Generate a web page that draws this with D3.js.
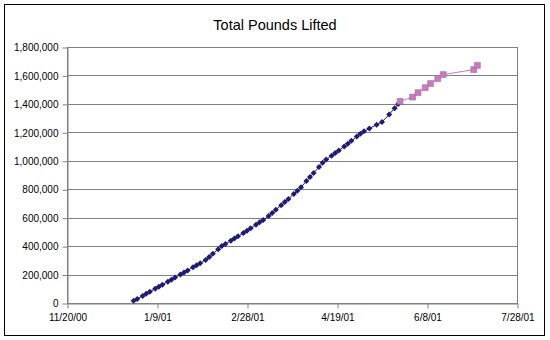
<!DOCTYPE html>
<html lang="en">
<head>
<meta charset="UTF-8"/>
<title>Total Pounds Lifted</title>
<script src="https://d3js.org/d3.v7.min.js"></script>
<style>
    html, body {
        margin: 0;
        padding: 0;
        background: #fff;
    }
    svg {
        display: block;
        font-family: Arial, "Liberation Sans", sans-serif;
    }
</style>
</head>
<body>
<div id="chart"></div>
<script>
    // series 1 (blue diamonds)
    var blueDates = [
        "12/27/00", "12/29/00", "1/1/01", "1/3/01", "1/5/01", "1/8/01", "1/10/01", "1/12/01",
        "1/15/01", "1/17/01", "1/19/01", "1/22/01", "1/24/01", "1/26/01", "1/29/01", "1/31/01",
        "2/2/01", "2/5/01", "2/7/01", "2/9/01", "2/12/01", "2/14/01", "2/16/01", "2/19/01",
        "2/21/01", "2/23/01", "2/26/01", "2/28/01", "3/2/01", "3/5/01", "3/7/01", "3/9/01",
        "3/12/01", "3/14/01", "3/16/01", "3/19/01", "3/21/01", "3/23/01", "3/26/01", "3/28/01",
        "3/30/01", "4/2/01", "4/4/01", "4/6/01", "4/9/01", "4/11/01", "4/13/01", "4/16/01",
        "4/18/01", "4/20/01", "4/23/01", "4/25/01", "4/27/01", "4/30/01", "5/2/01", "5/4/01",
        "5/7/01", "5/11/01", "5/14/01", "5/18/01", "5/21/01", "5/23/01"
    ];
    var blueValues = [
        15000, 29000, 50000, 65000, 79000, 100000, 115000, 129000,
        150000, 164000, 179000, 200000, 215000, 229000, 251000, 266000,
        280000, 302000, 324000, 346000, 378000, 400000, 415000, 438000,
        454000, 469000, 492000, 508000, 525000, 550000, 567000, 583000,
        611000, 633000, 655000, 688000, 710000, 732000, 766000, 789000,
        814000, 857000, 886000, 914000, 957000, 986000, 1009000, 1036000,
        1055000, 1073000, 1100000, 1120000, 1140000, 1170000, 1190000, 1207000,
        1227000, 1253000, 1273000, 1325000, 1370000, 1400000
    ];

    // series 2 (pink squares)
    var pinkDates = ["5/24/01", "5/31/01", "6/3/01", "6/7/01", "6/10/01", "6/14/01", "6/17/01", "7/4/01", "7/6/01"];
    var pinkValues = [1418000, 1448000, 1479000, 1514000, 1543000, 1578000, 1606000, 1641000, 1671000];

    var xTickLabels = ["11/20/00", "1/9/01", "2/28/01", "4/19/01", "6/8/01", "7/28/01"];
    var yTickValues = [0, 200000, 400000, 600000, 800000, 1000000, 1200000, 1400000, 1600000, 1800000];

    var w = 550;
    var h = 340;
    var plotLeft = 67, plotRight = 517, plotTop = 47, plotBottom = 303;

    var parse = d3.timeParse("%m/%d/%y");

    var x = d3.scaleTime()
        .domain([parse(xTickLabels[0]), parse(xTickLabels[xTickLabels.length - 1])])
        .range([plotLeft, plotRight]);
    var y = d3.scaleLinear()
        .domain([0, 1800000])
        .range([plotBottom, plotTop]);

    var svg = d3.select("#chart")
        .append("svg")
        .attr("width", w)
        .attr("height", h);

    // outer chart border
    svg.append("rect")
        .attr("x", 4.5).attr("y", 4.5)
        .attr("width", 540).attr("height", 331)
        .attr("fill", "#fff")
        .attr("stroke", "#000");

    svg.append("text")
        .attr("x", 275).attr("y", 30)
        .attr("text-anchor", "middle")
        .attr("font-size", 14.5)
        .attr("fill", "#000")
        .text("Total Pounds Lifted");

    // gridlines
    svg.append("g")
        .selectAll("line")
        .data(yTickValues)
        .enter()
        .append("line")
        .attr("x1", plotLeft).attr("x2", plotRight)
        .attr("y1", function(d) { return Math.round(y(d)) + 0.5; })
        .attr("y2", function(d) { return Math.round(y(d)) + 0.5; })
        .attr("stroke", "#808080");

    // plot area border
    svg.append("rect")
        .attr("x", plotLeft + 0.5).attr("y", plotTop + 0.5)
        .attr("width", plotRight - plotLeft).attr("height", plotBottom - plotTop)
        .attr("fill", "none")
        .attr("stroke", "#808080");

    var yAxis = svg.append("g")
        .attr("transform", "translate(" + (plotLeft + 0.5) + ",0.5)")
        .call(d3.axisLeft(y).tickValues(yTickValues).tickFormat(d3.format(",")).tickSize(5).tickSizeOuter(0));

    var xAxis = svg.append("g")
        .attr("transform", "translate(0.5," + (plotBottom + 0.5) + ")")
        .call(d3.axisBottom(x)
            .tickValues(xTickLabels.map(parse))
            .tickFormat(d3.timeFormat("%-m/%-d/%y"))
            .tickSize(5).tickSizeOuter(0));

    [yAxis, xAxis].forEach(function(g) {
        g.selectAll(".domain, line").attr("stroke", "#808080");
        g.selectAll("text")
            .attr("font-size", 10)
            .attr("font-family", "Arial, 'Liberation Sans', sans-serif")
            .attr("fill", "#000");
    });
    yAxis.selectAll("text").attr("x", -9);
    xAxis.selectAll("text").attr("y", 10);

    var blue = blueDates.map(function(d, i) { return [parse(d), blueValues[i]]; });
    var pink = pinkDates.map(function(d, i) { return [parse(d), pinkValues[i]]; });

    var line = d3.line()
        .x(function(d) { return x(d[0]); })
        .y(function(d) { return y(d[1]); });

    svg.append("path")
        .datum(blue)
        .attr("d", line)
        .attr("fill", "none")
        .attr("stroke", "#1c1c78")
        .attr("stroke-width", 1);

    svg.append("path")
        .datum(pink)
        .attr("d", line)
        .attr("fill", "none")
        .attr("stroke", "#c27ab8")
        .attr("stroke-width", 1);

    // markers
    svg.selectAll(".blue")
        .data(blue)
        .enter()
        .append("path")
        .attr("class", "blue")
        .attr("d", d3.symbol().type(d3.symbolSquare).size(18))
        .attr("transform", function(d) {
            return "translate(" + x(d[0]) + "," + y(d[1]) + ") rotate(45)";
        })
        .attr("fill", "#1c1c78");

    svg.selectAll(".pink")
        .data(pink)
        .enter()
        .append("path")
        .attr("class", "pink")
        .attr("d", d3.symbol().type(d3.symbolSquare).size(36))
        .attr("transform", function(d) {
            return "translate(" + x(d[0]) + "," + y(d[1]) + ")";
        })
        .attr("fill", "#c57cbc")
        .attr("stroke", "#a8629e")
        .attr("stroke-width", 0.5);
</script>
</body>
</html>
